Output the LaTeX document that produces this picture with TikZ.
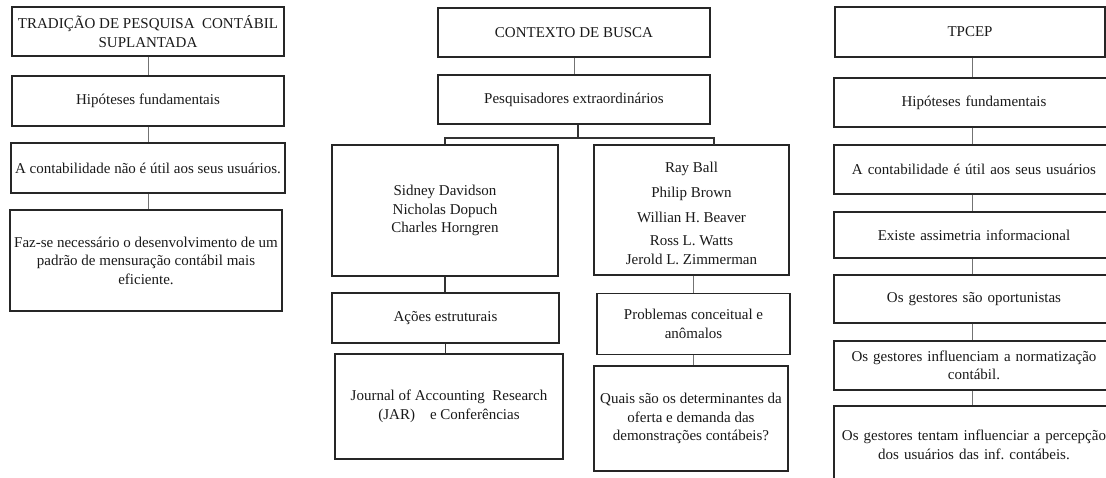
\documentclass[tikz,border=0pt]{standalone}
\usepackage{fontspec}
\setmainfont{Liberation Serif}
\frenchspacing
\begin{document}
\begin{tikzpicture}[x=1pt,y=-1pt,
  txt/.style={align=center, inner sep=0pt, font=\fontsize{15}{18.5}\selectfont, text=black!90},
  box/.style={txt, draw=black!85, line width=1.1pt},
  conn/.style={draw=black!55, line width=0.9pt},
  connd/.style={draw=black!80, line width=1.5pt}]
\useasboundingbox (0,0) rectangle (1106,478);
\clip (0,0) rectangle (1106,478);
% left column
\node[box, minimum width=272, minimum height=49] (L1) at (148,31.5) {TRADIÇÃO DE PESQUISA\ \ CONTÁBIL\\SUPLANTADA};
\node[box, minimum width=272, minimum height=50] (L2) at (148,101) {Hipóteses fundamentais};
\node[box, minimum width=274, minimum height=50] (L3) at (148,168) {A contabilidade não é útil aos seus usuários.};
\node[box, minimum width=272, minimum height=101] (L4) at (146,260.5) {Faz-se necessário o desenvolvimento\ de um\\padrão de mensuração contábil mais\\eficiente.};
\draw[conn] (L1) -- (L2);
\draw[conn] (L2) -- (L3);
\draw[conn] (L3.south) -- (L3.south |- L4.north);
% middle column
\node[box, minimum width=272, minimum height=49] (M1) at (574,32.5) {CONTEXTO DE BUSCA};
\node[box, minimum width=272, minimum height=49] (M2) at (574,99.5) {Pesquisadores extraordinários};
\node[box, minimum width=226, minimum height=131] (ML) at (445,210.5) {Sidney Davidson\\Nicholas Dopuch\\Charles Horngren};
\node[box, minimum width=195, minimum height=130] (MR) at (691.5,210) {};
\node[txt] (MRt) at (691.5,213.5) {Ray Ball\\[6.5pt]Philip Brown\\[6.5pt]Willian H. Beaver\\[4.5pt]Ross L. Watts\\Jerold L. Zimmerman};
\node[box, minimum width=227, minimum height=50] (MA) at (445.5,318) {Ações estruturais};
\node[box, minimum width=228, minimum height=105] (MJ) at (449,406.5) {Journal of Accounting\ \ Research\\(JAR)\quad e Conferências};
\node[box, minimum width=193, minimum height=61] (MP) at (693.5,324) {Problemas conceitual e\\anômalos};
\node[box, minimum width=194, minimum height=105] (MQ) at (691,418.5) {Quais são os determinantes da\\oferta e demanda das\\demonstrações contábeis?};
\draw[conn] (M1) -- (M2);
\coordinate (mb) at (578,138);
\coordinate (mr) at (714,145);
\draw[connd] (M2.south -| mb) -- (mb);
\draw[connd] (ML.north) |- (mb) -| (mr);
\draw[connd] (ML.south) -- (ML.south |- MA.north);
\draw[connd] (MA.south) -- (MA.south |- MJ.north);
\draw[conn] (MR.south -| MP.north) -- (MP.north);
\draw[conn] (MP.south) -- (MP.south |- MQ.north);
% right column
\node[box, minimum width=270, minimum height=50] (R1) at (970,32) {TPCEP};
\node[box, minimum width=280, minimum height=49, text width=272] (R2) at (974,102.5) {Hipóteses fundamentais};
\node[box, minimum width=280, minimum height=49, text width=272] (R3) at (974,169.5) {A contabilidade é útil aos seus usuários};
\node[box, minimum width=280, minimum height=46, text width=272] (R4) at (974,235) {Existe assimetria informacional};
\node[box, minimum width=280, minimum height=48, text width=272] (R5) at (974,299) {Os gestores são oportunistas};
\node[box, minimum width=280, minimum height=49, text width=272] (R6) at (974,365.5) {Os gestores influenciam a normatização\\contábil.};
\node[box, minimum width=280, minimum height=78, text width=272] (R7) at (974,445) {Os gestores tentam influenciar a percepção\\dos usuários das inf. contábeis.};
\coordinate (rx) at (972,0);
\draw[conn] (R1.south -| rx) -- (R2.north -| rx);
\draw[conn] (R2.south -| rx) -- (R3.north -| rx);
\draw[conn] (R3.south -| rx) -- (R4.north -| rx);
\draw[conn] (R4.south -| rx) -- (R5.north -| rx);
\draw[conn] (R5.south -| rx) -- (R6.north -| rx);
\draw[conn] (R6.south -| rx) -- (R7.north -| rx);
\end{tikzpicture}
\end{document}
